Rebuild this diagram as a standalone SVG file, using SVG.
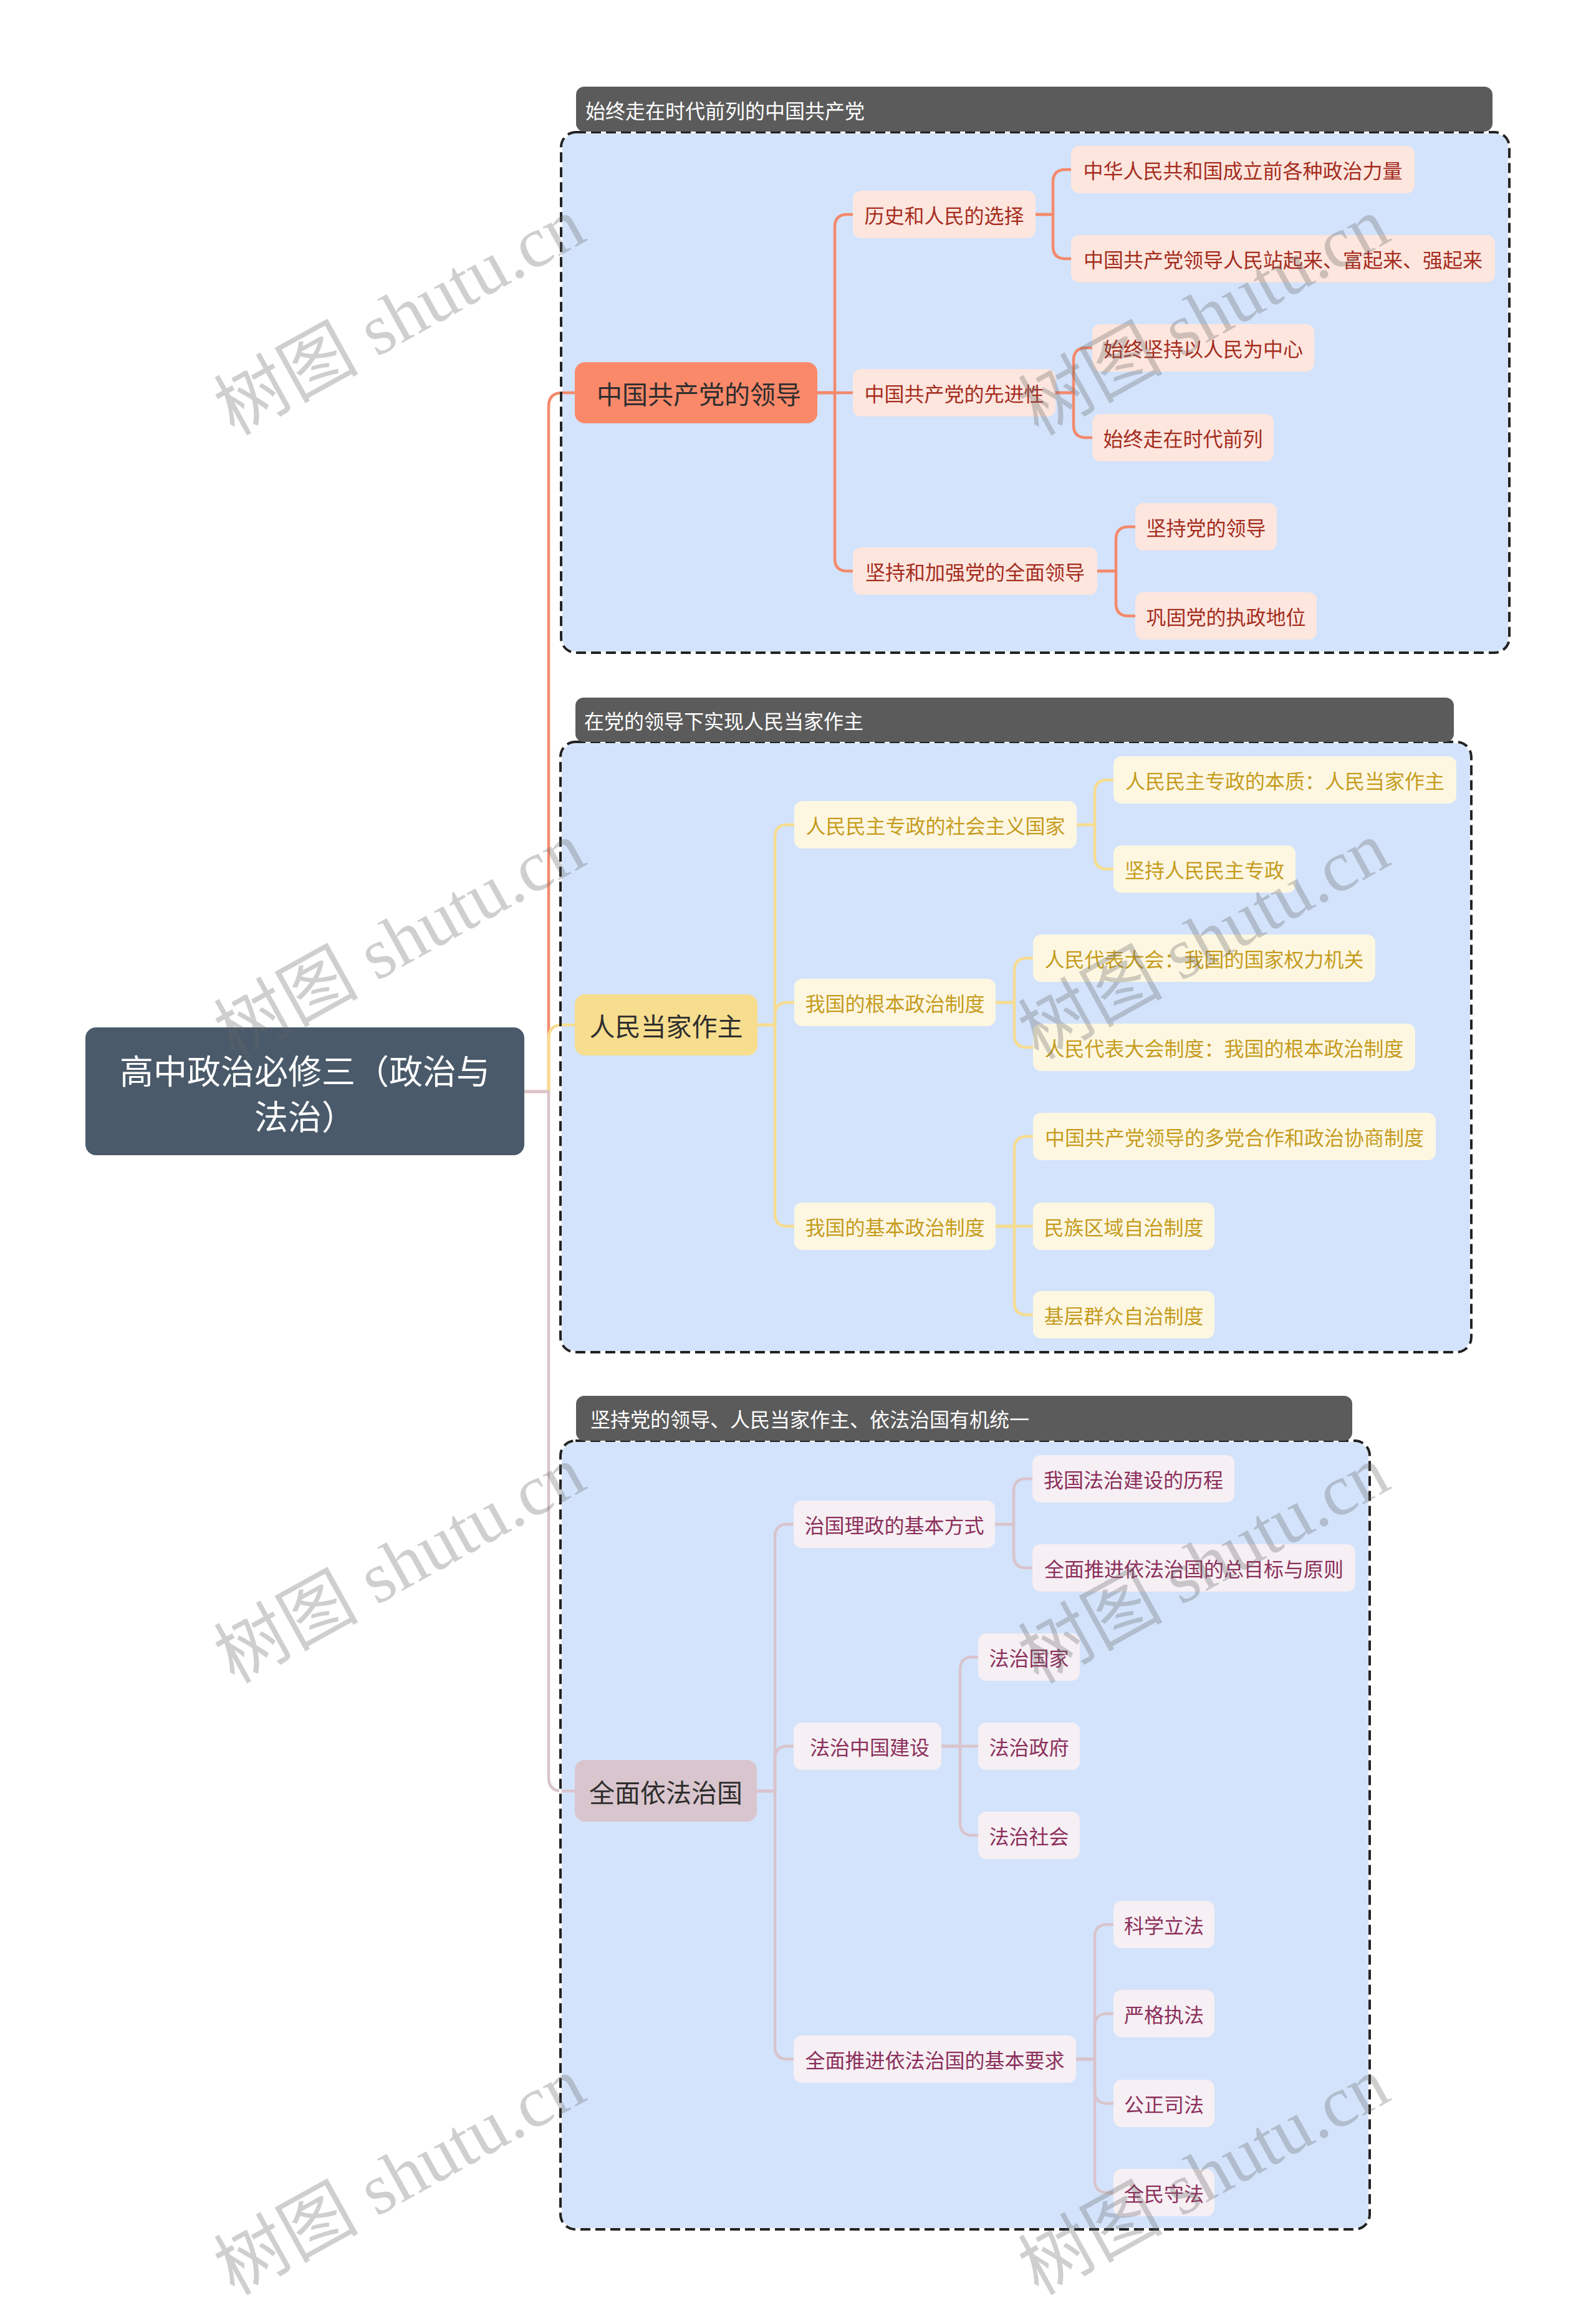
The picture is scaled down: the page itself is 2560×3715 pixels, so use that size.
<svg xmlns="http://www.w3.org/2000/svg" width="2560" height="3715" viewBox="0 0 2560 3715">
<style>
text{font-family:"Noto Sans CJK SC","Noto Sans",sans-serif;dominant-baseline:central}
.bfill{fill:#d3e3fb}
.bwhite{fill:none;stroke:#ffffff;stroke-width:4}
.bdash{fill:none;stroke:#222222;stroke-width:4;stroke-dasharray:16 8}
.hdr{fill:#5b5b5b}
.htxt{fill:#ffffff;font-size:32px}
.c{fill:none;stroke-width:4.5;stroke-linecap:round;stroke-linejoin:round}
.co{stroke:#f4896b}.cy{stroke:#f6dc8f}.cp{stroke:#d9c4cc}
.l1t{font-size:41px;fill:#2e2e2e;text-anchor:middle}
.l2t{font-size:32px;text-anchor:middle}
.o1{fill:#fa896a}.o2{fill:#fde6de}.ot{fill:#a52d1e}
.y1{fill:#f7dd8e}.y2{fill:#fdf7e2}.yt{fill:#c69c1e}
.p1{fill:#d9c5cd}.p2{fill:#f6eff3}.pt{fill:#8b2f5b}
.wm{font-family:"Liberation Serif","Noto Sans CJK SC",serif;font-size:116px;fill:#646464;opacity:0.3;text-anchor:middle;dominant-baseline:alphabetic}
</style>

<g id="boxes-fill">
<rect class="bfill" x="900" y="212" width="1521" height="835" rx="24"/>
<rect class="bfill" x="899" y="1190" width="1461" height="979" rx="24"/>
<rect class="bfill" x="899" y="2311" width="1298" height="1265" rx="24"/>
</g>

<g id="connectors">
<path class="c co" d="M841 1751 H880 V652 Q880 630 902 630 H922"/>
<path class="c co" d="M1311 630 H1339 V364 Q1339 344 1359 344 H1368"/>
<path class="c co" d="M1311 630 H1368"/>
<path class="c co" d="M1311 630 H1339 V896 Q1339 916 1359 916 H1368"/>
<path class="c co" d="M1661 344 H1689 V292 Q1689 272 1709 272 H1718"/>
<path class="c co" d="M1661 344 H1689 V395 Q1689 415 1709 415 H1718"/>
<path class="c co" d="M1693 630 H1722 V578 Q1722 558 1742 558 H1752"/>
<path class="c co" d="M1693 630 H1722 V682 Q1722 702 1742 702 H1752"/>
<path class="c co" d="M1760 916 H1790 V865 Q1790 845 1810 845 H1821"/>
<path class="c co" d="M1760 916 H1790 V968 Q1790 988 1810 988 H1821"/>

<path class="c cy" d="M841 1751 H880 V1666 Q880 1644 902 1644 H922"/>
<path class="c cy" d="M1215 1644 H1243 V1343 Q1243 1323 1263 1323 H1274"/>
<path class="c cy" d="M1215 1644 H1243 V1628 Q1243 1608 1263 1608 H1274"/>
<path class="c cy" d="M1215 1644 H1243 V1947 Q1243 1967 1263 1967 H1274"/>
<path class="c cy" d="M1727 1323 H1756 V1271 Q1756 1251 1776 1251 H1786"/>
<path class="c cy" d="M1727 1323 H1756 V1374 Q1756 1394 1776 1394 H1786"/>
<path class="c cy" d="M1597 1608 H1627 V1557 Q1627 1537 1647 1537 H1657"/>
<path class="c cy" d="M1597 1608 H1627 V1660 Q1627 1680 1647 1680 H1657"/>
<path class="c cy" d="M1597 1967 H1627 V1843 Q1627 1823 1647 1823 H1657"/>
<path class="c cy" d="M1597 1967 H1657"/>
<path class="c cy" d="M1597 1967 H1627 V2089 Q1627 2109 1647 2109 H1657"/>

<path class="c cp" d="M841 1751 H880 V2851 Q880 2873 902 2873 H922"/>
<path class="c cp" d="M1214 2873 H1243 V2465 Q1243 2445 1263 2445 H1273"/>
<path class="c cp" d="M1214 2873 H1243 V2821 Q1243 2801 1263 2801 H1273"/>
<path class="c cp" d="M1214 2873 H1243 V3283 Q1243 3303 1263 3303 H1273"/>
<path class="c cp" d="M1596 2445 H1626 V2392 Q1626 2372 1646 2372 H1656"/>
<path class="c cp" d="M1596 2445 H1626 V2495 Q1626 2515 1646 2515 H1656"/>
<path class="c cp" d="M1510 2801 H1540 V2678 Q1540 2658 1560 2658 H1569"/>
<path class="c cp" d="M1510 2801 H1569"/>
<path class="c cp" d="M1510 2801 H1540 V2924 Q1540 2944 1560 2944 H1569"/>
<path class="c cp" d="M1726 3303 H1756 V3107 Q1756 3087 1776 3087 H1786"/>
<path class="c cp" d="M1726 3303 H1756 V3250 Q1756 3230 1776 3230 H1786"/>
<path class="c cp" d="M1726 3303 H1756 V3354 Q1756 3374 1776 3374 H1786"/>
<path class="c cp" d="M1726 3303 H1756 V3497 Q1756 3517 1776 3517 H1786"/>
</g>

<g id="boxes-stroke">
<rect class="bwhite" x="900" y="212" width="1521" height="835" rx="24"/>
<rect class="bdash" x="900" y="212" width="1521" height="835" rx="24"/>
<rect class="bwhite" x="899" y="1190" width="1461" height="979" rx="24"/>
<rect class="bdash" x="899" y="1190" width="1461" height="979" rx="24"/>
<rect class="bwhite" x="899" y="2311" width="1298" height="1265" rx="24"/>
<rect class="bdash" x="899" y="2311" width="1298" height="1265" rx="24"/>
</g>

<g id="header-1"><rect class="hdr" x="924" y="139" width="1470" height="72" rx="13"/><text class="htxt" x="939" y="176">始终走在时代前列的中国共产党</text></g>
<g id="header-2"><rect class="hdr" x="923" y="1119" width="1409" height="71" rx="13"/><text class="htxt" x="937" y="1155">在党的领导下实现人民当家作主</text></g>
<g id="header-3"><rect class="hdr" x="924" y="2239" width="1245" height="72" rx="13"/><text class="htxt" x="947" y="2275">坚持党的领导、人民当家作主、依法治国有机统一</text></g>

<g id="root">
<rect x="137" y="1648" width="704" height="205" rx="17" fill="#4a5a6a"/>
<text x="489" y="1715" font-size="54" fill="#ffffff" text-anchor="middle">高中政治必修三（政治与</text>
<text x="489" y="1788" font-size="54" fill="#ffffff" text-anchor="middle">法治）</text>
</g>

<g id="n1"><rect class="o1" x="922" y="581" width="389" height="98" rx="16"/><text class="l1t" x="1121" y="630">中国共产党的领导</text></g>
<g id="n1a"><rect class="o2" x="1368" y="306" width="293" height="76" rx="13"/><text class="l2t ot" x="1514.5" y="344">历史和人民的选择</text></g>
<g id="n1a1"><rect class="o2" x="1718" y="234" width="551" height="76" rx="13"/><text class="l2t ot" x="1993.5" y="272">中华人民共和国成立前各种政治力量</text></g>
<g id="n1a2"><rect class="o2" x="1718" y="377" width="680" height="76" rx="13"/><text class="l2t ot" x="2058" y="415">中国共产党领导人民站起来、富起来、强起来</text></g>
<g id="n1b"><rect class="o2" x="1368" y="592" width="325" height="76" rx="13"/><text class="l2t ot" x="1530.5" y="630">中国共产党的先进性</text></g>
<g id="n1b1"><rect class="o2" x="1752" y="520" width="356" height="76" rx="13"/><text class="l2t ot" x="1930" y="558">始终坚持以人民为中心</text></g>
<g id="n1b2"><rect class="o2" x="1752" y="664" width="291" height="76" rx="13"/><text class="l2t ot" x="1897.5" y="702">始终走在时代前列</text></g>
<g id="n1c"><rect class="o2" x="1368" y="878" width="392" height="76" rx="13"/><text class="l2t ot" x="1564" y="916">坚持和加强党的全面领导</text></g>
<g id="n1c1"><rect class="o2" x="1821" y="807" width="227" height="76" rx="13"/><text class="l2t ot" x="1934.5" y="845">坚持党的领导</text></g>
<g id="n1c2"><rect class="o2" x="1821" y="950" width="291" height="76" rx="13"/><text class="l2t ot" x="1966.5" y="988">巩固党的执政地位</text></g>

<g id="n2"><rect class="y1" x="922" y="1595" width="293" height="98" rx="16"/><text class="l1t" x="1068.5" y="1644">人民当家作主</text></g>
<g id="n2a"><rect class="y2" x="1274" y="1285" width="453" height="76" rx="13"/><text class="l2t yt" x="1500.5" y="1323">人民民主专政的社会主义国家</text></g>
<g id="n2a1"><rect class="y2" x="1786" y="1213" width="550" height="76" rx="13"/><text class="l2t yt" x="2061" y="1251">人民民主专政的本质：人民当家作主</text></g>
<g id="n2a2"><rect class="y2" x="1786" y="1356" width="292" height="76" rx="13"/><text class="l2t yt" x="1932" y="1394">坚持人民民主专政</text></g>
<g id="n2b"><rect class="y2" x="1274" y="1570" width="323" height="76" rx="13"/><text class="l2t yt" x="1435.5" y="1608">我国的根本政治制度</text></g>
<g id="n2b1"><rect class="y2" x="1657" y="1499" width="549" height="76" rx="13"/><text class="l2t yt" x="1931.5" y="1537">人民代表大会：我国的国家权力机关</text></g>
<g id="n2b2"><rect class="y2" x="1657" y="1642" width="613" height="76" rx="13"/><text class="l2t yt" x="1963.5" y="1680">人民代表大会制度：我国的根本政治制度</text></g>
<g id="n2c"><rect class="y2" x="1274" y="1929" width="323" height="76" rx="13"/><text class="l2t yt" x="1435.5" y="1967">我国的基本政治制度</text></g>
<g id="n2c1"><rect class="y2" x="1657" y="1785" width="646" height="76" rx="13"/><text class="l2t yt" x="1980" y="1823">中国共产党领导的多党合作和政治协商制度</text></g>
<g id="n2c2"><rect class="y2" x="1657" y="1929" width="291" height="76" rx="13"/><text class="l2t yt" x="1802.5" y="1967">民族区域自治制度</text></g>
<g id="n2c3"><rect class="y2" x="1657" y="2071" width="291" height="76" rx="13"/><text class="l2t yt" x="1802.5" y="2109">基层群众自治制度</text></g>

<g id="n3"><rect class="p1" x="922" y="2823" width="292" height="99" rx="16"/><text class="l1t" x="1068" y="2873">全面依法治国</text></g>
<g id="n3a"><rect class="p2" x="1273" y="2407" width="323" height="76" rx="13"/><text class="l2t pt" x="1434.5" y="2445">治国理政的基本方式</text></g>
<g id="n3a1"><rect class="p2" x="1656" y="2334" width="324" height="76" rx="13"/><text class="l2t pt" x="1818" y="2372">我国法治建设的历程</text></g>
<g id="n3a2"><rect class="p2" x="1656" y="2477" width="518" height="76" rx="13"/><text class="l2t pt" x="1915" y="2515">全面推进依法治国的总目标与原则</text></g>
<g id="n3b"><rect class="p2" x="1273" y="2763" width="237" height="76" rx="13"/><text class="l2t pt" x="1395" y="2801">法治中国建设</text></g>
<g id="n3b1"><rect class="p2" x="1569" y="2620" width="163" height="76" rx="13"/><text class="l2t pt" x="1650.5" y="2658">法治国家</text></g>
<g id="n3b2"><rect class="p2" x="1569" y="2763" width="163" height="76" rx="13"/><text class="l2t pt" x="1650.5" y="2801">法治政府</text></g>
<g id="n3b3"><rect class="p2" x="1569" y="2906" width="163" height="76" rx="13"/><text class="l2t pt" x="1650.5" y="2944">法治社会</text></g>
<g id="n3c"><rect class="p2" x="1273" y="3265" width="453" height="76" rx="13"/><text class="l2t pt" x="1499.5" y="3303">全面推进依法治国的基本要求</text></g>
<g id="n3c1"><rect class="p2" x="1786" y="3049" width="162" height="76" rx="13"/><text class="l2t pt" x="1867" y="3087">科学立法</text></g>
<g id="n3c2"><rect class="p2" x="1786" y="3192" width="162" height="76" rx="13"/><text class="l2t pt" x="1867" y="3230">严格执法</text></g>
<g id="n3c3"><rect class="p2" x="1786" y="3336" width="162" height="76" rx="13"/><text class="l2t pt" x="1867" y="3374">公正司法</text></g>
<g id="n3c4"><rect class="p2" x="1786" y="3479" width="162" height="76" rx="13"/><text class="l2t pt" x="1867" y="3517">全民守法</text></g>

<g id="watermarks">
<text class="wm" x="660" y="542" transform="rotate(-29 660 542)">树图 shutu.cn</text>
<text class="wm" x="1950" y="542" transform="rotate(-29 1950 542)">树图 shutu.cn</text>
<text class="wm" x="660" y="1543" transform="rotate(-29 660 1543)">树图 shutu.cn</text>
<text class="wm" x="1950" y="1543" transform="rotate(-29 1950 1543)">树图 shutu.cn</text>
<text class="wm" x="660" y="2544" transform="rotate(-29 660 2544)">树图 shutu.cn</text>
<text class="wm" x="1950" y="2544" transform="rotate(-29 1950 2544)">树图 shutu.cn</text>
<text class="wm" x="660" y="3525" transform="rotate(-29 660 3525)">树图 shutu.cn</text>
<text class="wm" x="1950" y="3525" transform="rotate(-29 1950 3525)">树图 shutu.cn</text>
</g>
</svg>
